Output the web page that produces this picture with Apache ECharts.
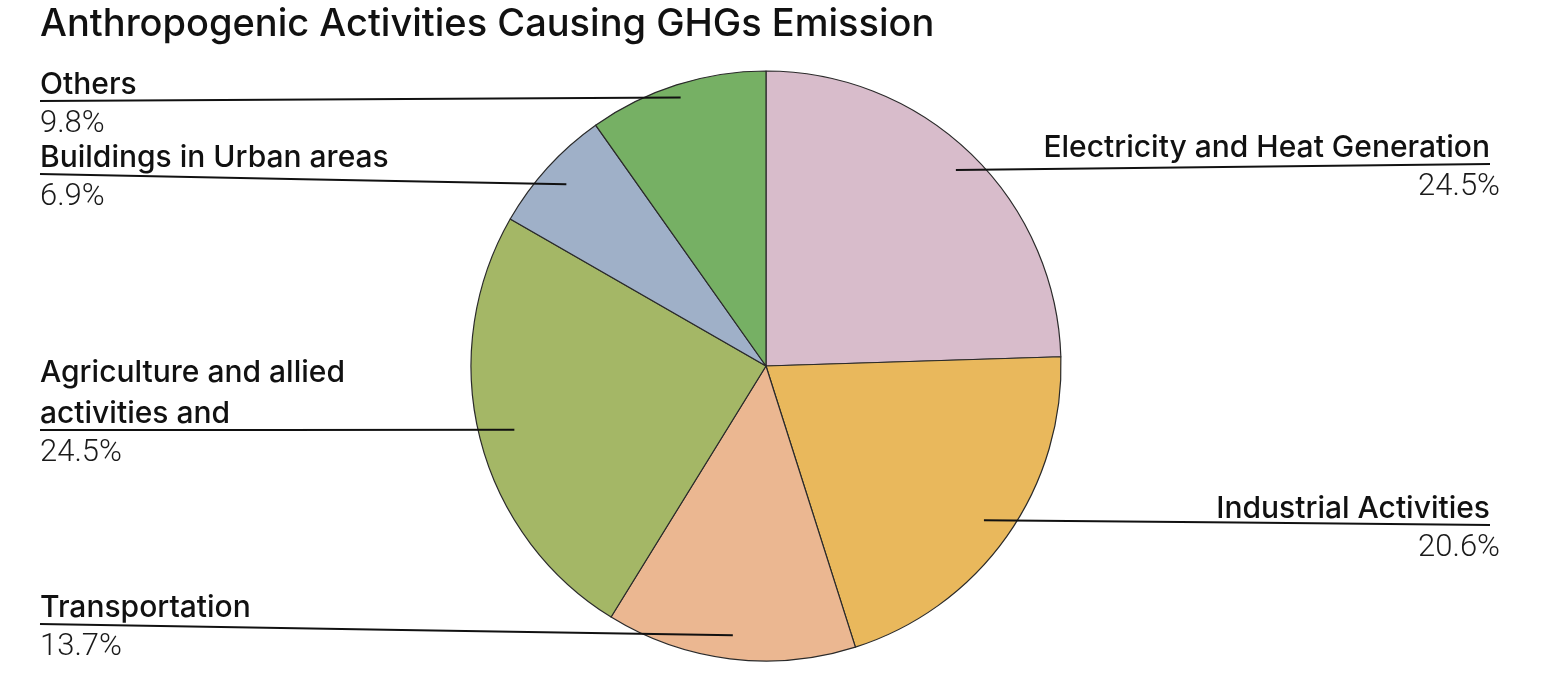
<!DOCTYPE html>
<html>
<head>
<meta charset="utf-8">
<script src="https://cdn.jsdelivr.net/npm/echarts@6/dist/echarts.min.js"></script>
<style>
  html, body { margin: 0; padding: 0; background: #ffffff; }
  #chart { width: 1568px; height: 674px; }
</style>
</head>
<body>
<div id="chart"></div>
<script>
// ---- data ----
const categories = [
  'Electricity and Heat Generation',
  'Industrial Activities',
  'Transportation',
  'Agriculture and allied\nactivities and',
  'Buildings in Urban areas',
  'Others'
];
const shares = [24.5, 20.6, 13.7, 24.5, 6.9, 9.8];
const sliceColors = ['#d8bccb', '#e9b85c', '#ebb791', '#a4b766', '#9fb0c8', '#76b064'];

// ---- layout ----
const CX = 766, CY = 366, R = 295;
const labelSide = ['right', 'right', 'left', 'left', 'left', 'left'];
const labelLineY = [164, 525, 624, 430, 174, 101];
const lineInnerFrac = [0.925, 0.905, 0.92, 0.88, 0.915, 0.955];
const LEFT_X = 40, RIGHT_X = 1490;
const NAME_LH = 41, PCT_LH = 38, LABEL_SHIFT = 4;

const total = shares.reduce((a, b) => a + b, 0);
function midAngle(i) {
  let before = 0;
  for (let k = 0; k < i; k++) before += shares[k];
  return (before + shares[i] / 2) / total * Math.PI * 2;
}

const pieData = categories.map((c, i) => ({ name: c, value: shares[i], itemStyle: { color: sliceColors[i] } }));

const chart = echarts.init(document.getElementById('chart'));
chart.setOption({
  backgroundColor: '#ffffff',
  animation: false,
  title: {
    text: 'Anthropogenic Activities Causing GHGs Emission',
    left: 40,
    top: 2,
    padding: 0,
    textStyle: { fontFamily: 'Inter', fontSize: 38, fontWeight: 500, color: '#111111', lineHeight: 46 }
  },
  series: [{
    type: 'pie',
    z: 2,
    center: [CX, CY],
    radius: R,
    startAngle: 90,
    clockwise: true,
    silent: true,
    data: pieData,
    itemStyle: { borderColor: '#2a2a2a', borderWidth: 1.2 },
    label: { show: false },
    labelLine: { show: false }
  }, {
    // transparent overlay carrying labels and guide lines above the slices
    type: 'pie',
    z: 5,
    center: [CX, CY],
    radius: R,
    startAngle: 90,
    clockwise: true,
    silent: true,
    avoidLabelOverlap: false,
    data: categories.map((c, i) => ({ name: c, value: shares[i] })),
    itemStyle: { color: 'rgba(0,0,0,0)', borderWidth: 0 },
    label: {
      show: true,
      position: 'outside',
      formatter: function (p) {
        const i = p.dataIndex;
        const tag = labelSide[i] === 'right' ? 'nr' : 'n';
        const lines = p.name.split('\n').map(s => '{' + tag + '|' + s + '}');
        return lines.join('\n') + '\n{p|' + shares[i].toFixed(1) + '%}';
      },
      rich: {
        n: { fontFamily: 'Inter', fontSize: 30, fontWeight: 500, color: '#111111', lineHeight: NAME_LH },
        nr: { fontFamily: 'Inter', fontSize: 30, fontWeight: 500, color: '#111111', lineHeight: NAME_LH, padding: [0, 10, 0, 0] },
        p: { fontFamily: 'Roboto', fontSize: 31, fontWeight: 300, color: '#1a1a1a', lineHeight: PCT_LH }
      }
    },
    labelLine: { show: true, smooth: false, lineStyle: { color: '#111111', width: 2 } },
    labelLayout: function (params) {
      const i = params.dataIndex;
      const a = midAngle(i);
      const ir = lineInnerFrac[i] * R;
      const ix = CX + ir * Math.sin(a);
      const iy = CY - ir * Math.cos(a);
      const side = labelSide[i];
      const nLines = categories[i].split('\n').length;
      const ox = side === 'left' ? LEFT_X : RIGHT_X;
      const oy = labelLineY[i];
      return {
        x: side === 'left' ? LEFT_X : RIGHT_X + 10,
        y: oy - nLines * NAME_LH + LABEL_SHIFT,
        align: side,
        verticalAlign: 'top',
        labelLinePoints: [[ix, iy], [(ix + ox) / 2, (iy + oy) / 2], [ox, oy]]
      };
    }
  }]
});
</script>
</body>
</html>
